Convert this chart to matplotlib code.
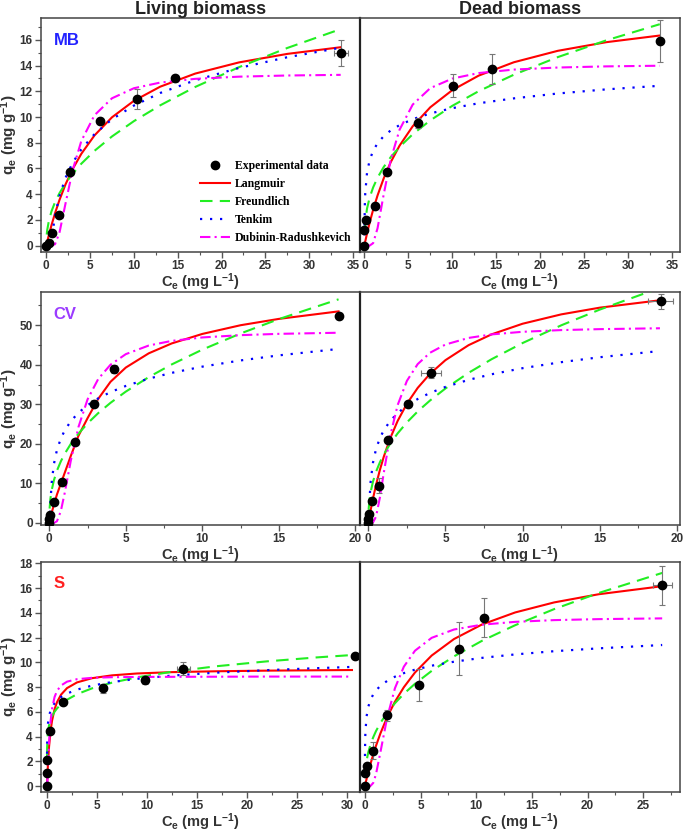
import matplotlib
matplotlib.use("Agg")
import matplotlib.pyplot as plt
from matplotlib.ticker import MultipleLocator

plt.rcParams['font.family'] = ['Liberation Sans', 'DejaVu Sans']
plt.rcParams['font.weight'] = 'bold'
plt.rcParams['axes.labelweight'] = 'bold'
plt.rcParams['mathtext.fontset'] = 'custom'
plt.rcParams['mathtext.rm'] = 'Liberation Sans:bold'
plt.rcParams['mathtext.bf'] = 'Liberation Sans:bold'
plt.rcParams['mathtext.it'] = 'Liberation Sans:bold'
plt.rcParams['mathtext.default'] = 'bf'

# ---------------- MB, living biomass ----------------
mb_liv_x = [0, 0.3, 0.6, 1.4, 2.7, 6.1, 10.3, 14.7, 33.6]
mb_liv_y = [0, 0.2, 1.0, 2.4, 5.7, 9.7, 11.4, 13.0, 15.0]
mb_liv_yerr = [0, 0, 0, 0, 0.1, 0.1, 0.75, 0.3, 1.0]
mb_liv_xerr = [0, 0, 0, 0, 0, 0, 0, 0, 0.8]
mb_liv_c = [0.05, 0.1, 0.3, 0.6, 1, 1.5, 2.2, 3, 4, 5.5, 7.5, 10, 13, 17, 22, 27.5, 33.6]
mb_liv_lang = [0.15, 0.29, 0.84, 1.60, 2.52, 3.54, 4.77, 5.94, 7.14, 8.57, 9.98, 11.26, 12.36, 13.38, 14.25, 14.91, 15.43]
mb_liv_freu = [0.86, 1.18, 1.95, 2.68, 3.38, 4.07, 4.85, 5.58, 6.37, 7.37, 8.49, 9.68, 10.91, 12.34, 13.88, 15.37, 16.84]
mb_liv_dr = [0, 0, 0, 0, 0.11, 0.99, 3.29, 5.85, 8.14, 10.14, 11.46, 12.24, 12.68, 12.97, 13.14, 13.23, 13.28]
mb_liv_tem_c = [0.53, 0.6, 1, 1.5, 2.2, 3, 4, 5.5, 7.5, 10, 13, 17, 22, 27.5, 33.6]
mb_liv_tem = [0, 0.46, 2.35, 3.85, 5.28, 6.43, 7.49, 8.67, 9.83, 10.89, 11.87, 12.86, 13.82, 14.65, 15.39]

# ---------------- MB, dead biomass ----------------
mb_dead_x = [0, 0, 0.19, 1.22, 2.63, 6.09, 10.08, 14.5, 33.68]
mb_dead_y = [0, 1.2, 2.0, 3.06, 5.7, 9.54, 12.44, 13.76, 15.89]
mb_dead_yerr = [0, 0, 0, 0, 0, 0.39, 0.9, 1.17, 1.62]
mb_dead_xerr = [0, 0, 0, 0, 0, 0, 0, 0, 0]
mb_dead_c = [0.02, 0.1, 0.3, 0.6, 1, 1.5, 2.2, 3, 4, 5.5, 7.5, 10, 13, 17, 22, 27.5, 33.6]
mb_dead_lang = [0.07, 0.32, 0.93, 1.78, 2.79, 3.90, 5.23, 6.49, 7.77, 9.28, 10.76, 12.09, 13.22, 14.26, 15.15, 15.82, 16.34]
mb_dead_freu = [1.02, 1.89, 2.87, 3.73, 4.53, 5.28, 6.11, 6.88, 7.67, 8.66, 9.74, 10.87, 12.01, 13.29, 14.66, 15.96, 17.22]
mb_dead_dr = [0, 0, 0, 0, 0.19, 1.35, 3.98, 6.69, 9.01, 10.97, 12.25, 12.99, 13.42, 13.69, 13.85, 13.94, 13.99]
mb_dead_tem_c = [0.006, 0.01, 0.02, 0.05, 0.1, 0.3, 0.6, 1, 1.5, 2.2, 3, 4, 5.5, 7.5, 10, 13, 17, 22, 27.5, 33.6]
mb_dead_tem = [0.02, 0.76, 1.75, 3.07, 4.07, 5.65, 6.65, 7.38, 7.96, 8.51, 8.96, 9.37, 9.83, 10.28, 10.69, 11.07, 11.45, 11.83, 12.15, 12.43]

# ---------------- CV, living biomass ----------------
cv_liv_x = [0, 0, 0.07, 0.28, 0.8, 1.7, 2.93, 4.22, 18.9]
cv_liv_y = [0, 1.0, 2.0, 5.4, 10.4, 20.6, 30.2, 39.0, 52.4]
cv_liv_yerr = [0, 0, 0, 0, 0, 0, 0.8, 1.0, 0.8]
cv_liv_xerr = [0, 0, 0, 0, 0, 0, 0.2, 0, 0]
cv_liv_c = [0.02, 0.07, 0.15, 0.3, 0.5, 0.75, 1, 1.4, 1.9, 2.5, 3.2, 4, 5, 6.5, 8, 10, 12.5, 15, 18.9]
cv_liv_lang = [0.3, 1.3, 2.5, 4.6, 7.2, 9.9, 12.6, 16.9, 22.0, 26.5, 31.4, 35.7, 39.3, 42.9, 45.4, 47.8, 50.0, 51.6, 53.5]
cv_liv_freu = [3.65, 6.02, 8.17, 10.78, 13.23, 15.55, 17.45, 19.96, 22.56, 25.18, 27.79, 30.38, 33.22, 36.89, 40.09, 43.83, 47.92, 51.55, 56.55]
cv_liv_dr = [0, 0, 0, 0.01, 0.44, 2.95, 7.46, 15.65, 24.2, 31.25, 36.43, 40.02, 42.69, 44.87, 46.04, 46.91, 47.49, 47.82, 48.10]
cv_liv_tem_c = [0.036, 0.05, 0.07, 0.15, 0.3, 0.5, 0.75, 1, 1.4, 1.9, 2.5, 3.2, 4, 5, 6.5, 8, 10, 12.5, 15, 18.9]
cv_liv_tem = [0, 2.28, 4.65, 10.0, 14.88, 18.47, 21.32, 23.34, 25.71, 27.85, 29.78, 31.52, 33.09, 34.65, 36.5, 37.96, 39.53, 41.1, 42.38, 44.0]

# ---------------- CV, dead biomass ----------------
cv_dead_x = [0, 0, 0.02, 0.21, 0.67, 1.3, 2.55, 4.07, 18.94]
cv_dead_y = [0, 0.9, 2.2, 5.6, 9.4, 20.9, 30.1, 38.0, 56.0]
cv_dead_yerr = [0, 0, 0, 0, 1.9, 0, 0, 1.4, 1.9]
cv_dead_xerr = [0, 0, 0, 0, 0, 0, 0, 0.65, 0.8]
cv_dead_c = [0.02, 0.07, 0.15, 0.3, 0.5, 0.75, 1, 1.4, 1.9, 2.5, 3.2, 4, 5, 6.5, 8, 10, 12.5, 15, 18.9]
cv_dead_lang = [0.45, 1.54, 3.21, 6.12, 9.59, 13.40, 16.72, 21.22, 25.79, 30.15, 34.15, 37.72, 41.17, 44.96, 47.71, 50.38, 52.74, 54.44, 56.31]
cv_dead_freu = [3.35, 5.66, 7.80, 10.43, 12.93, 15.33, 17.3, 19.93, 22.65, 25.42, 28.2, 30.97, 34.01, 37.97, 41.43, 45.5, 49.97, 53.95, 59.45]
cv_dead_dr = [0, 0, 0, 0.11, 1.59, 6.41, 12.61, 21.68, 29.79, 35.92, 40.17, 43.04, 45.12, 46.79, 47.68, 48.34, 48.77, 49.01, 49.23]
cv_dead_tem_c = [0.032, 0.05, 0.07, 0.15, 0.3, 0.5, 0.75, 1, 1.4, 1.9, 2.5, 3.2, 4, 5, 6.5, 8, 10, 12.5, 15, 18.9]
cv_dead_tem = [0, 2.95, 5.25, 10.45, 15.19, 18.68, 21.45, 23.41, 25.71, 27.79, 29.67, 31.35, 32.88, 34.4, 36.19, 37.61, 39.14, 40.66, 41.91, 43.48]

# ---------------- S, living biomass ----------------
s_liv_x = [0, 0, 0, 0.26, 1.6, 5.59, 9.81, 13.63, 30.77]
s_liv_y = [0, 1.03, 2.11, 4.49, 6.79, 7.92, 8.58, 9.5, 10.48]
s_liv_yerr = [0, 0, 0, 0, 0.15, 0.37, 0.35, 0.5, 0.15]
s_liv_xerr = [0, 0, 0, 0, 0, 0, 0, 0.66, 0]
s_liv_c = [0.002, 0.01, 0.05, 0.1, 0.2, 0.35, 0.5, 0.75, 1, 1.4, 2, 3, 4.5, 6.5, 9, 12.5, 17, 22, 27, 30.5]
s_liv_lang = [0.05, 0.23, 1.06, 1.90, 3.17, 4.43, 5.28, 6.20, 6.79, 7.39, 7.92, 8.38, 8.72, 8.95, 9.10, 9.21, 9.28, 9.33, 9.36, 9.38]
s_liv_freu = [2.43, 3.10, 3.97, 4.42, 4.91, 5.35, 5.65, 6.01, 6.28, 6.61, 6.98, 7.43, 7.90, 8.36, 8.79, 9.24, 9.69, 10.08, 10.40, 10.59]
s_liv_dr = [0, 0.02, 0.60, 1.67, 3.49, 5.22, 6.24, 7.19, 7.70, 8.13, 8.44, 8.64, 8.75, 8.80, 8.82, 8.83, 8.84, 8.85, 8.85, 8.85]
s_liv_tem_c = [0.0002, 0.001, 0.005, 0.02, 0.05, 0.1, 0.2, 0.35, 0.5, 0.75, 1, 1.4, 2, 3, 4.5, 6.5, 9, 12.5, 17, 22, 27, 30.5]
s_liv_tem = [0.2, 1.47, 2.74, 3.84, 4.56, 5.11, 5.66, 6.10, 6.38, 6.70, 6.93, 7.20, 7.48, 7.80, 8.12, 8.41, 8.67, 8.93, 9.17, 9.37, 9.53, 9.63]

# ---------------- S, dead biomass ----------------
s_dead_x = [0, 0, 0.18, 0.74, 2.02, 4.85, 8.48, 10.74, 26.72]
s_dead_y = [0, 1.06, 1.64, 2.88, 5.73, 8.16, 11.09, 13.62, 16.21]
s_dead_yerr = [0, 0, 0, 0.71, 0.45, 1.32, 2.14, 1.56, 1.58]
s_dead_xerr = [0, 0, 0, 0, 0, 0, 0, 0, 0.86]
s_dead_c = [0.01, 0.05, 0.15, 0.3, 0.5, 0.75, 1, 1.4, 2, 2.7, 3.5, 4.5, 6, 8, 10.5, 13.5, 17, 21, 26.7]
s_dead_lang = [0.04, 0.20, 0.57, 1.11, 1.78, 2.55, 3.26, 4.27, 5.57, 6.82, 7.99, 9.18, 10.55, 11.88, 13.05, 14.03, 14.84, 15.50, 16.15]
s_dead_freu = [0.67, 1.30, 2.04, 2.71, 3.35, 3.95, 4.45, 5.11, 5.92, 6.70, 7.46, 8.27, 9.31, 10.48, 11.73, 13.0, 14.3, 15.6, 17.22]
s_dead_dr = [0, 0, 0, 0, 0.02, 0.26, 0.97, 2.76, 5.53, 7.91, 9.65, 10.94, 11.98, 12.65, 13.04, 13.27, 13.41, 13.49, 13.55]
s_dead_tem_c = [0.001, 0.003, 0.01, 0.03, 0.05, 0.15, 0.3, 0.5, 0.75, 1, 1.4, 2, 2.7, 3.5, 4.5, 6, 8, 10.5, 13.5, 17, 21, 26.7]
s_dead_tem = [0.01, 1.24, 2.59, 3.81, 4.38, 5.61, 6.39, 6.96, 7.41, 7.73, 8.11, 8.50, 8.84, 9.13, 9.41, 9.73, 10.05, 10.36, 10.64, 10.90, 11.13, 11.40]

dye_names = ["MB", "CV", "S"]
dye_colors = ["#2222ff", "#9b3bff", "#ff2020"]
col_titles = ["Living biomass", "Dead biomass"]
legend_labels = ["Experimental data", "Langmuir", "Freundlich", "Tenkim", "Dubinin-Radushkevich"]

# one entry per panel: (row, col) -> data
panels = {
    (0, 0): (mb_liv_x, mb_liv_y, mb_liv_xerr, mb_liv_yerr, mb_liv_c, mb_liv_lang, mb_liv_freu, mb_liv_dr, mb_liv_tem_c, mb_liv_tem),
    (0, 1): (mb_dead_x, mb_dead_y, mb_dead_xerr, mb_dead_yerr, mb_dead_c, mb_dead_lang, mb_dead_freu, mb_dead_dr, mb_dead_tem_c, mb_dead_tem),
    (1, 0): (cv_liv_x, cv_liv_y, cv_liv_xerr, cv_liv_yerr, cv_liv_c, cv_liv_lang, cv_liv_freu, cv_liv_dr, cv_liv_tem_c, cv_liv_tem),
    (1, 1): (cv_dead_x, cv_dead_y, cv_dead_xerr, cv_dead_yerr, cv_dead_c, cv_dead_lang, cv_dead_freu, cv_dead_dr, cv_dead_tem_c, cv_dead_tem),
    (2, 0): (s_liv_x, s_liv_y, s_liv_xerr, s_liv_yerr, s_liv_c, s_liv_lang, s_liv_freu, s_liv_dr, s_liv_tem_c, s_liv_tem),
    (2, 1): (s_dead_x, s_dead_y, s_dead_xerr, s_dead_yerr, s_dead_c, s_dead_lang, s_dead_freu, s_dead_dr, s_dead_tem_c, s_dead_tem),
}

# axes layout (figure fractions) and limits
col_left = [0.0599, 0.5255]
col_width = [0.4656, 0.4672]
row_bottom = [0.6982, 0.3713, 0.0515]
row_height = [0.2802, 0.2790, 0.2754]
row_ylim = [(-0.5, 17.7), (-0.5, 58.4), (-0.47, 18.1)]
row_ystep = [2, 10, 2]
xlims = {
    (0, 0): (-0.6, 35.8), (0, 1): (-0.5, 35.9),
    (1, 0): (-0.54, 20.3), (1, 1): (-0.54, 20.2),
    (2, 0): (-0.6, 31.3), (2, 1): (-0.44, 28.3),
}

fig = plt.figure(figsize=(6.85, 8.35), dpi=100)
txt_col = "#333333"

for (r, c), data in panels.items():
    x, y, xerr, yerr, cgrid, lang, freu, dr, tem_c, tem = data
    ax = fig.add_axes([col_left[c], row_bottom[r], col_width[c], row_height[r]])

    ax.plot(x, y, 'o', color='black', ms=6, zorder=5, label=legend_labels[0])
    ax.errorbar(x, y, yerr=yerr, xerr=xerr, fmt='none', ecolor='#777777',
                elinewidth=0.8, capsize=2, capthick=0.8, zorder=4)
    ax.plot(cgrid, lang, color='#ff0000', lw=1.5, zorder=3, label=legend_labels[1])
    ax.plot(cgrid, freu, color='#22ee22', lw=1.5, ls=(0, (6, 3.5)), zorder=3, label=legend_labels[2])
    ax.plot(tem_c, tem, color='#0000ff', lw=1.6, ls=(0, (1, 3.5)), zorder=3, label=legend_labels[3])
    ax.plot(cgrid, dr, color='#ff00ff', lw=1.5, ls=(0, (5, 2, 1, 2)), zorder=3, label=legend_labels[4])

    ax.set_xlim(*xlims[(r, c)])
    ax.set_ylim(*row_ylim[r])
    ax.xaxis.set_major_locator(MultipleLocator(5))
    ax.xaxis.set_minor_locator(MultipleLocator(2.5))
    ax.yaxis.set_major_locator(MultipleLocator(row_ystep[r]))
    ax.yaxis.set_minor_locator(MultipleLocator(row_ystep[r] / 2))

    for sp in ax.spines.values():
        sp.set_color('#444444')
        sp.set_linewidth(1.1)

    ax.tick_params(which='both', direction='out', top=False, right=False,
                   colors='#555555', labelcolor=txt_col, labelsize=8.5, pad=2)
    ax.tick_params(which='major', length=4, width=1)
    ax.tick_params(which='minor', length=2, width=0.8)

    ax.set_xlabel('C$_e$ (mg L$^{-1}$)', fontsize=10.5, color=txt_col, labelpad=-0.5)
    if c == 0:
        ax.set_ylabel('q$_e$ (mg g$^{-1}$)', fontsize=11, color=txt_col)
        ax.yaxis.set_label_coords(-0.066, 0.5)
        ax.text(0.04, 0.905, dye_names[r], transform=ax.transAxes, fontsize=12,
                fontweight='bold', color=dye_colors[r], va='center', ha='left')
    else:
        ax.tick_params(axis='y', which='both', left=False, labelleft=False)
        ax.spines['left'].set_linewidth(1.6)
        ax.spines['left'].set_color('#222222')

    if r == 0:
        ax.set_title(col_titles[c], fontsize=13, fontweight='bold', color='#222222', pad=2)
        if c == 0:
            ax.legend(loc='lower right', bbox_to_anchor=(1.0, 0.0), frameon=False,
                      prop={'family': 'Liberation Serif', 'weight': 'bold', 'size': 8.5},
                      handlelength=2.6, handletextpad=0.4, labelspacing=0.5,
                      borderaxespad=0.3, numpoints=1)

fig.savefig("out.png", dpi=100)
